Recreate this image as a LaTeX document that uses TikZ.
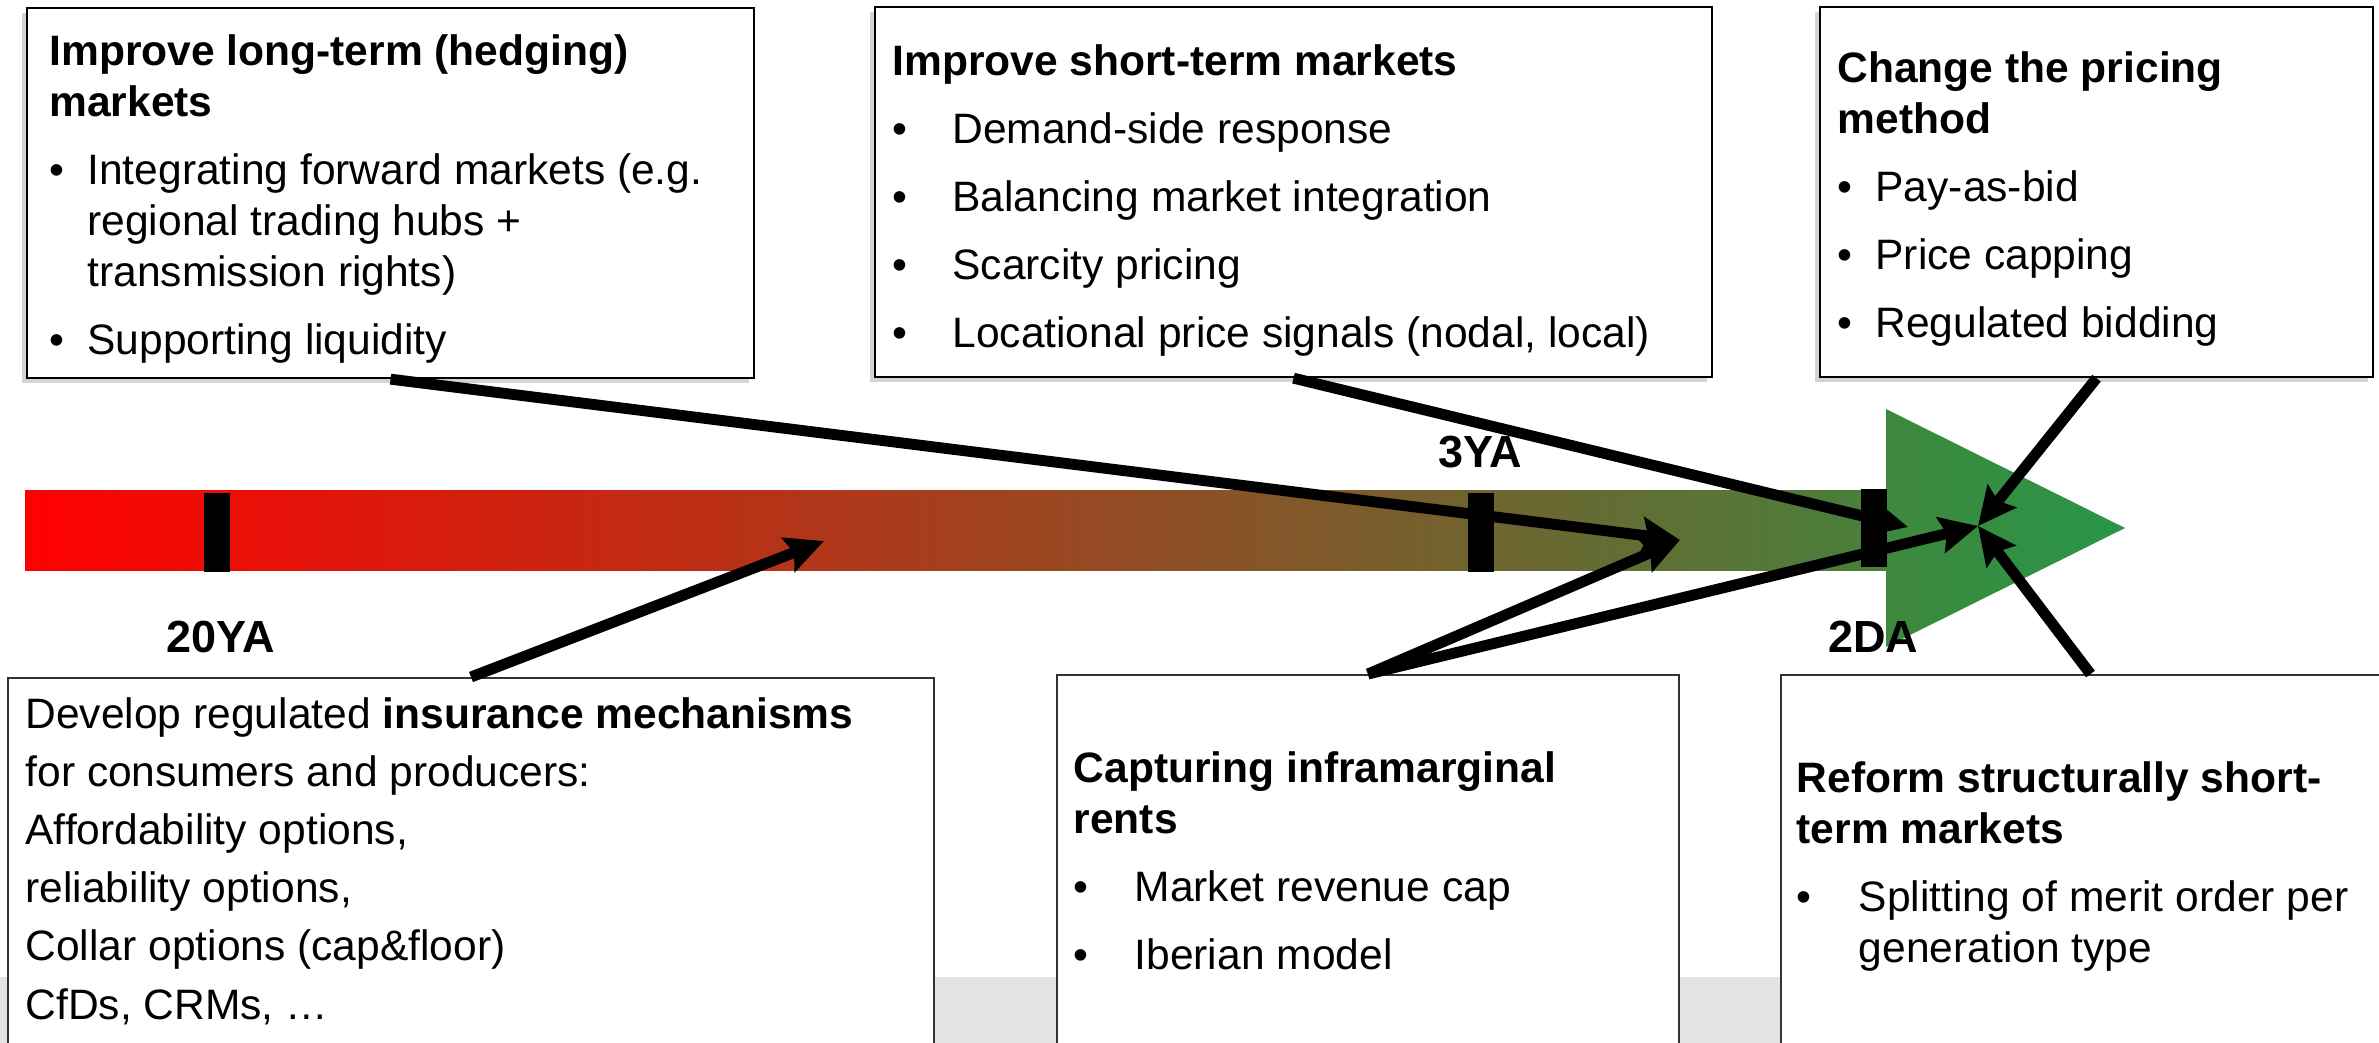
\documentclass[tikz,border=0pt]{standalone}
\usepackage{fontspec}
\setmainfont{Liberation Sans}
\usetikzlibrary{arrows.meta,shadows,calc}
\definecolor{bandgray}{RGB}{228,228,228}
\definecolor{barleft}{RGB}{255,0,0}
\definecolor{barright}{RGB}{72,128,60}
\definecolor{trileft}{RGB}{62,136,62}
\definecolor{triright}{RGB}{40,150,72}
\newcommand\firststrut{\rule{0pt}{10pt}}
\newcommand\bulit[1]{\makebox[#1][l]{•}}
\newcommand\indit[1]{\hspace*{#1}}
\begin{document}
\begin{tikzpicture}[x=0.01cm,y=-0.01cm,
  tbox/.style={draw=black, line width=0.6pt, fill=white, inner sep=0pt,
    drop shadow={shadow xshift=-0.05cm, shadow yshift=-0.05cm, opacity=0.35}},
  bbox/.style={draw=black!80, line width=0.5pt, fill=white, inner sep=0pt},
  txt/.style={anchor=north west, inner sep=0pt, align=left, font={\fontsize{12.1}{14.5}\selectfont}},
  txtwide/.style={txt, font={\fontsize{12.1}{16.5}\selectfont}},
  lbl/.style={anchor=base, inner sep=0pt, font={\fontsize{12.8}{15}\selectfont\bfseries}},
  conn/.style={line width=3.1pt, -{Stealth[length=0.38cm, width=0.36cm, inset=0.06cm]}},
]
\useasboundingbox (0,0) rectangle (2379,1043);
\clip (0,0) rectangle (2379,1043);

% background band
\fill[bandgray] (0,977) rectangle (2379,1043);

% timeline
\shade[left color=barleft, right color=barright] (25,490) rectangle (1886,570);
\shade[left color=trileft, right color=triright] (1886,409) -- (2125,528) -- (1886,647) -- cycle;

% boxes
\node[tbox, minimum width=7.27cm, minimum height=3.70cm] (b1) at (390.5,193) {};
\node[tbox, minimum width=8.37cm, minimum height=3.70cm] (b2) at (1293.5,192) {};
\node[tbox, minimum width=5.53cm, minimum height=3.70cm] (b3) at (2096.5,192) {};
\node[bbox, minimum width=9.26cm, minimum height=3.82cm] (b4) at (471,869) {};
\node[bbox, minimum width=6.22cm, minimum height=3.85cm] (b5) at (1368,867.5) {};
\node[bbox, minimum width=6.19cm, minimum height=3.85cm] (b6) at (2090.5,867.5) {};

% texts
\node[txt] (x1) at ($(b1.north west)+(23,23)$) {\firststrut\textbf{Improve long-term (hedging)}\\
\textbf{markets}\\[4.8pt]
\bulit{0.38cm}Integrating forward markets (e.g.\\
\indit{0.38cm}regional trading hubs +\\
\indit{0.38cm}transmission rights)\\[4.8pt]
\bulit{0.38cm}Supporting liquidity};

\node[txt] (x2) at ($(b2.north west)+(18,34)$) {\firststrut\textbf{Improve short-term markets}\\[4.8pt]
\bulit{0.60cm}Demand-side response\\[4.8pt]
\bulit{0.60cm}Balancing market integration\\[4.8pt]
\bulit{0.60cm}Scarcity pricing\\[4.8pt]
\bulit{0.60cm}Locational price signals (nodal, local)};

\node[txt] (x3) at ($(b3.north west)+(18,41)$) {\firststrut\textbf{Change the pricing}\\
\textbf{method}\\[4.8pt]
\bulit{0.38cm}Pay-as-bid\\[4.8pt]
\bulit{0.38cm}Price capping\\[4.8pt]
\bulit{0.38cm}Regulated bidding};

\node[txtwide] (x4) at ($(b4.north west)+(18,16)$) {\firststrut Develop regulated \textbf{insurance mechanisms}\\
for consumers and producers:\\
Affordability options,\\
reliability options,\\
Collar options (cap\&floor)\\
CfDs, CRMs, …};

\node[txt] (x5) at ($(b5.north west)+(17,73)$) {\firststrut\textbf{Capturing inframarginal}\\
\textbf{rents}\\[4.8pt]
\bulit{0.61cm}Market revenue cap\\[4.8pt]
\bulit{0.61cm}Iberian model};

\node[txt] (x6) at ($(b6.north west)+(16,83)$) {\firststrut\textbf{Reform structurally short-}\\
\textbf{term markets}\\[4.8pt]
\bulit{0.62cm}Splitting of merit order per\\
\indit{0.62cm}generation type};

% connectors
\coordinate (t1) at (1680,540);
\coordinate (t2) at (1978,526);
\coordinate (t3) at (1908,527);
\coordinate (t4) at (824,541);
\draw[conn] (b1.south) -- (t1);
\draw[conn] (b2.south) -- (t3);
\draw[conn] (b3.south) -- (t2);
\draw[conn] (b6.north) -- (t2);
\draw[conn] (b5.north) -- (t1);
\draw[conn] (b5.north) -- (t2);
\draw[conn] (b4.north) -- (t4);

% ticks
\fill (204,493) rectangle (230,572);
\fill (1468,493) rectangle (1494,572);
\fill (1861,489) rectangle (1887,567);

% labels
\node[lbl] (l20) at (221,652) {20YA};
\node[lbl] (l3) at (1480,467) {3YA};
\node[lbl] (l2) at (1873,652) {2DA};
\end{tikzpicture}
\end{document}
